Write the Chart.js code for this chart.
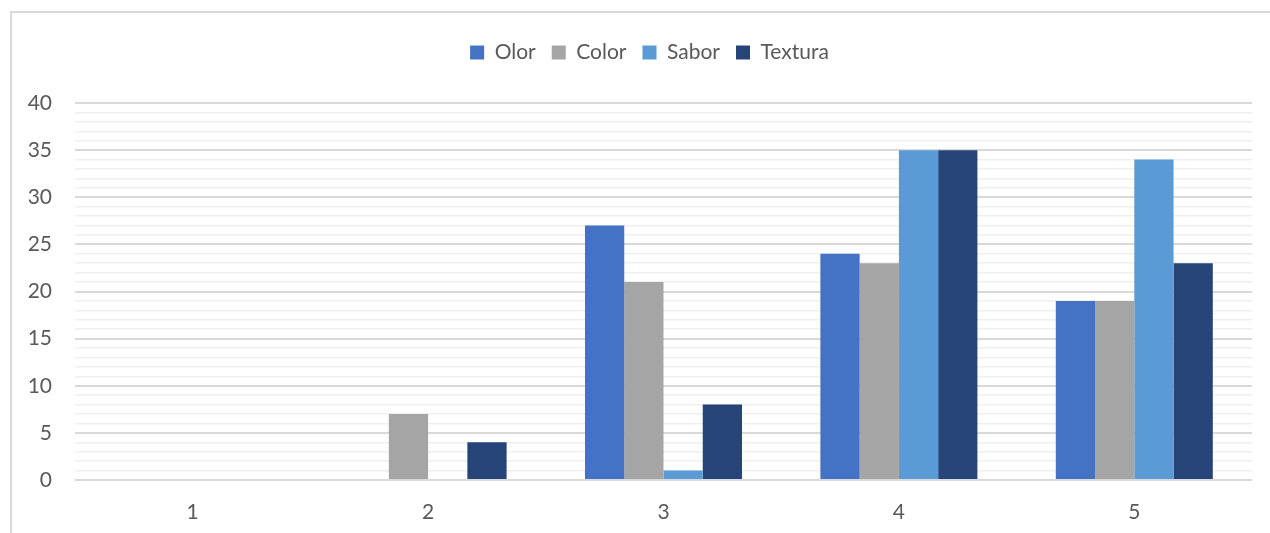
<!DOCTYPE html>
<html>
<head>
<meta charset="utf-8">
<script src="https://cdn.jsdelivr.net/npm/chart.js@4/dist/chart.umd.min.js"></script>
<style>
  html, body { margin: 0; padding: 0; background: #ffffff; }
  canvas { display: block; }
</style>
</head>
<body>
<canvas id="chart" width="1270" height="533"></canvas>
<script>
// Scores per rating level (1-5) for each attribute
const categories = ['1', '2', '3', '4', '5'];
const olor    = [0, 0, 27, 24, 19];
const color   = [0, 7, 21, 23, 19];
const sabor   = [0, 0, 1, 35, 34];
const textura = [0, 4, 8, 35, 23];

// Value axis: labelled every 5, light guide line every 1
const yMin = 0;
const yMax = 40;
const yLabelStep = 5;
const yGuideStep = 1;

const textColor = '#595959';
const fontFamily = 'Lato, "Open Sans", sans-serif';

// Thin grey frame on the left and top edges, white background
const framePlugin = {
  id: 'frame',
  beforeDraw(chart) {
    const ctx = chart.ctx;
    ctx.save();
    ctx.fillStyle = '#ffffff';
    ctx.fillRect(0, 0, chart.width, chart.height);
    ctx.strokeStyle = '#d9d9d9';
    ctx.lineWidth = 2;
    ctx.beginPath();
    ctx.moveTo(11, chart.height);
    ctx.lineTo(11, 12);
    ctx.lineTo(chart.width, 12);
    ctx.stroke();
    ctx.restore();
  }
};

// Leave a fixed band between the legend and the plot area
const legendBandPlugin = {
  id: 'legendBand',
  afterInit(chart) {
    const legend = chart.legend;
    if (!legend) return;
    const baseFit = legend.fit;
    legend.fit = function () {
      baseFit.call(this);
      this.height = 77;
    };
  }
};

// Let the value labels extend into the left margin instead of being clipped
const labelRoomPlugin = {
  id: 'labelRoom',
  afterLayout(chart) {
    const y = chart.scales.y;
    y.left = 0;
    y.width = y.right;
  }
};

new Chart(document.getElementById('chart'), {
  type: 'bar',
  data: {
    labels: categories,
    datasets: [
      { label: 'Olor',    data: olor,    backgroundColor: '#4472C4' },
      { label: 'Color',   data: color,   backgroundColor: '#A5A5A5' },
      { label: 'Sabor',   data: sabor,   backgroundColor: '#5B9BD5' },
      { label: 'Textura', data: textura, backgroundColor: '#264478' }
    ]
  },
  options: {
    responsive: false,
    animation: false,
    datasets: {
      bar: { categoryPercentage: 0.667, barPercentage: 1.0, borderWidth: 0 }
    },
    layout: { padding: { left: 47, right: 18, top: 26, bottom: 0 } },
    plugins: {
      legend: {
        position: 'top',
        labels: {
          boxWidth: 14,
          boxHeight: 14,
          padding: 16,
          color: textColor,
          font: { family: fontFamily, size: 21 }
        }
      },
      tooltip: { enabled: false }
    },
    scales: {
      x: {
        grid: { display: false, drawTicks: false },
        border: { display: false },
        ticks: { color: textColor, font: { family: fontFamily, size: 21 }, padding: 20 },
        afterFit(scale) { scale.height = 53; }
      },
      y: {
        min: yMin,
        max: yMax,
        ticks: {
          stepSize: yGuideStep,
          autoSkip: false,
          padding: 23,
          color: textColor,
          font: { family: fontFamily, size: 21 },
          callback: (v) => (v % yLabelStep === 0 ? v : '')
        },
        grid: {
          drawTicks: false,
          color: (ctx) => (ctx.tick && ctx.tick.value % yLabelStep === 0 ? '#d9d9d9' : '#efefef'),
          lineWidth: (ctx) => (ctx.tick && ctx.tick.value % yLabelStep === 0 ? 2 : 1.5)
        },
        border: { display: false },
        afterFit(scale) { scale.width = 28; }
      }
    }
  },
  plugins: [framePlugin, legendBandPlugin, labelRoomPlugin]
});
</script>
</body>
</html>
